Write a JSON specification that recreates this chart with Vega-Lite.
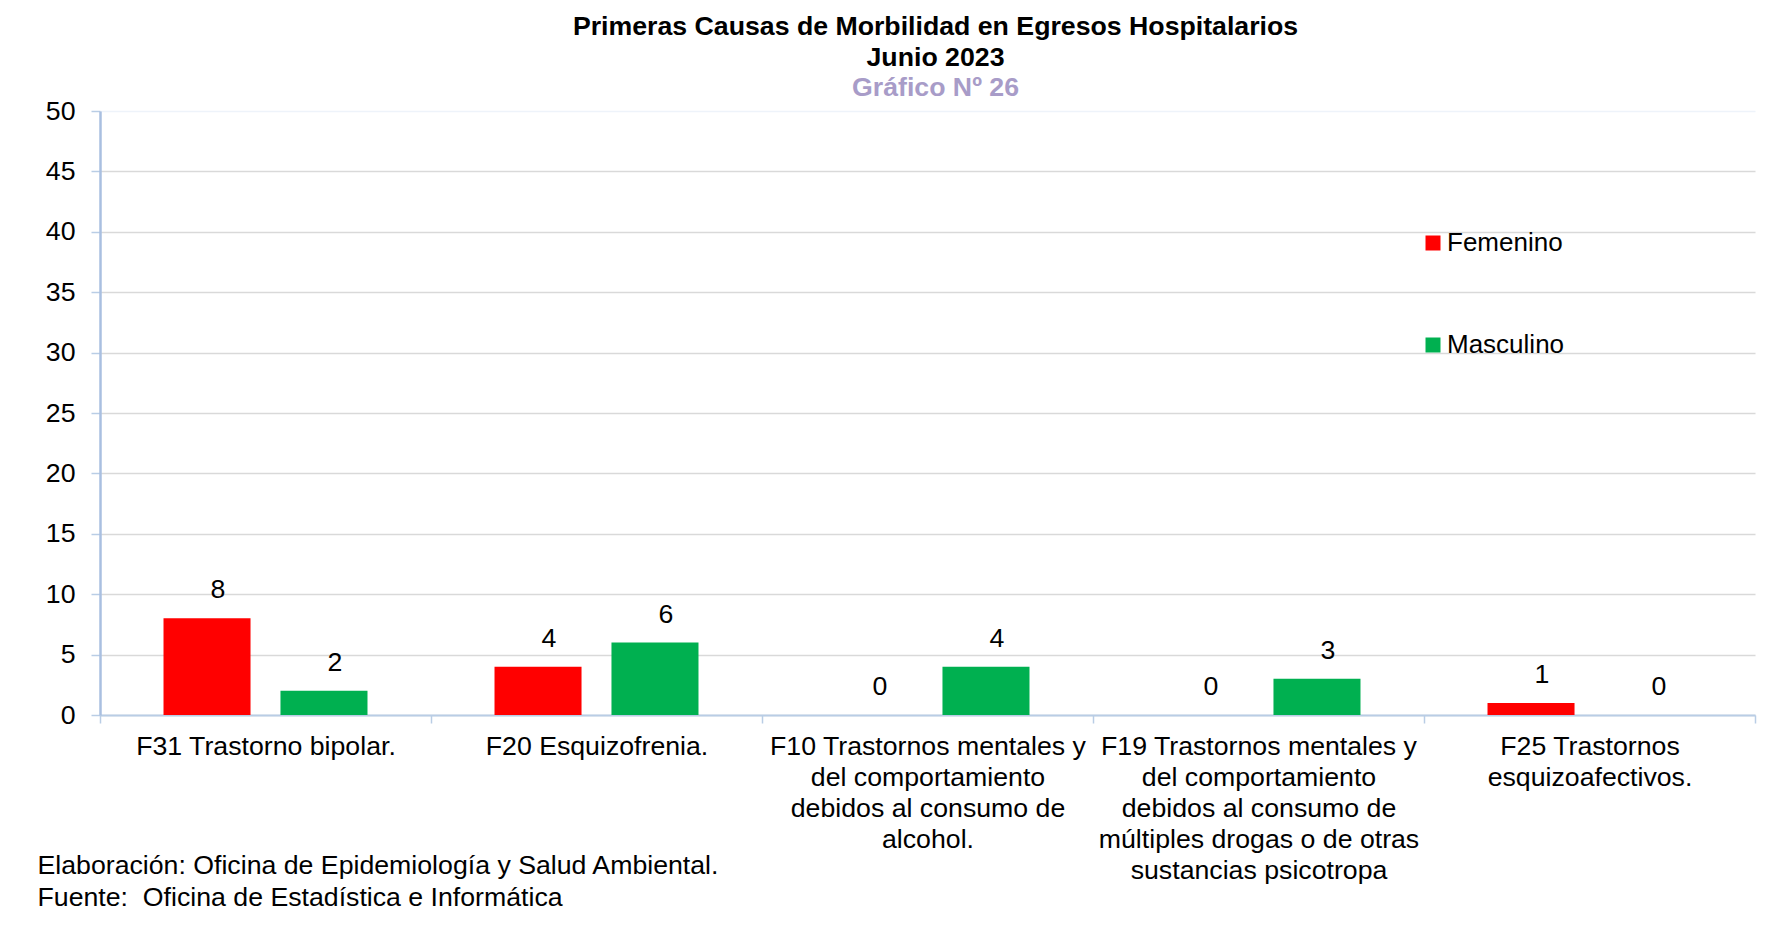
{
  "$schema": "https://vega.github.io/schema/vega-lite/v6.json",
  "width": 1655,
  "height": 604,
  "autosize": {"type": "none"},
  "padding": {"left": 100, "top": 111, "right": 23, "bottom": 210},
  "background": "white",
  "title": {
    "text": ["Primeras Causas de Morbilidad en Egresos Hospitalarios", "Junio 2023"],
    "subtitle": "Gráfico Nº 26",
    "anchor": "middle",
    "frame": "group",
    "offset": -4,
    "dx": 8,
    "font": "Liberation Sans",
    "fontSize": 26.7,
    "fontWeight": "bold",
    "lineHeight": 31,
    "color": "#000000",
    "subtitleFont": "Liberation Sans",
    "subtitleFontSize": 26.7,
    "subtitleFontWeight": "bold",
    "subtitleLineHeight": 31,
    "subtitleColor": "#a89cc8",
    "subtitlePadding": 4
  },
  "data": {
    "values": [
      {"cause": "F31 Trastorno bipolar.", "sex": "Femenino", "n": 8},
      {"cause": "F31 Trastorno bipolar.", "sex": "Masculino", "n": 2},
      {"cause": "F20 Esquizofrenia.", "sex": "Femenino", "n": 4},
      {"cause": "F20 Esquizofrenia.", "sex": "Masculino", "n": 6},
      {"cause": "F10 Trastornos mentales y|del comportamiento|debidos al consumo de|alcohol.", "sex": "Femenino", "n": 0},
      {"cause": "F10 Trastornos mentales y|del comportamiento|debidos al consumo de|alcohol.", "sex": "Masculino", "n": 4},
      {"cause": "F19 Trastornos mentales y|del comportamiento|debidos al consumo de|múltiples drogas o de otras|sustancias psicotropa", "sex": "Femenino", "n": 0},
      {"cause": "F19 Trastornos mentales y|del comportamiento|debidos al consumo de|múltiples drogas o de otras|sustancias psicotropa", "sex": "Masculino", "n": 3},
      {"cause": "F25 Trastornos|esquizoafectivos.", "sex": "Femenino", "n": 1},
      {"cause": "F25 Trastornos|esquizoafectivos.", "sex": "Masculino", "n": 0}
    ]
  },
  "encoding": {
    "x": {
      "field": "cause",
      "type": "nominal",
      "sort": null,
      "scale": {"paddingInner": 0, "paddingOuter": 0},
      "axis": {
        "labelExpr": "datum.value ? split(datum.value, '|') : ''",
        "labelAngle": 0,
        "labelFont": "Liberation Sans",
        "labelFontSize": 26.7,
        "labelLineHeight": 31,
        "labelColor": "#000000",
        "labelBaseline": "top",
        "labelPadding": 10,
        "labelLimit": 400,
        "tickBand": "extent",
        "tickSize": 8,
        "tickColor": "#b9cde5",
        "tickWidth": 1.5,
        "domainColor": "#b9cde5",
        "domainWidth": 2,
        "title": ["Elaboración: Oficina de Epidemiología y Salud Ambiental.", "Fuente: \u00a0Oficina de Estadística e Informática"],
        "titleAnchor": "start",
        "titleAlign": "left",
        "titleBaseline": "top",
        "titleX": -63,
        "titleY": 137,
        "titleFont": "Liberation Sans",
        "titleFontSize": 26.7,
        "titleFontWeight": "normal",
        "titleLineHeight": 32,
        "titleColor": "#000000"
      }
    },
    "xOffset": {
      "field": "sex",
      "type": "nominal",
      "scale": {"paddingInner": 0.256, "paddingOuter": 0.543}
    },
    "y": {
      "field": "n",
      "type": "quantitative",
      "scale": {"domain": [0, 50], "nice": false},
      "axis": {
        "values": [0, 5, 10, 15, 20, 25, 30, 35, 40, 45, 50],
        "title": null,
        "labelFont": "Liberation Sans",
        "labelFontSize": 26.7,
        "labelColor": "#000000",
        "labelPadding": 16,
        "tickSize": 9,
        "tickColor": "#b9cde5",
        "tickWidth": 1.5,
        "domainColor": "#a9bfe0",
        "domainWidth": 2.5,
        "gridColor": {"condition": {"test": "datum.value == 50", "value": "#eef3fa"}, "value": "#d9d9d9"},
        "gridWidth": 1.5
      }
    }
  },
  "layer": [
    {
      "mark": {"type": "bar"},
      "encoding": {
        "color": {
          "field": "sex",
          "type": "nominal",
          "scale": {"domain": ["Femenino", "Masculino"], "range": ["#ff0000", "#00b050"]},
          "legend": {
            "title": null,
            "orient": "none",
            "legendX": 1320,
            "legendY": 119,
            "direction": "vertical",
            "symbolType": "square",
            "symbolSize": 225,
            "symbolStrokeWidth": 0,
            "labelFont": "Liberation Sans",
            "labelFontSize": 26,
            "labelColor": "#000000",
            "labelOffset": 1,
            "rowPadding": 76
          }
        }
      }
    },
    {
      "mark": {"type": "text", "baseline": "middle", "dy": -28, "dx": 11, "font": "Liberation Sans", "fontSize": 26.7, "color": "#000000"},
      "encoding": {"text": {"field": "n", "type": "quantitative"}}
    }
  ],
  "config": {"view": {"stroke": null}}
}
